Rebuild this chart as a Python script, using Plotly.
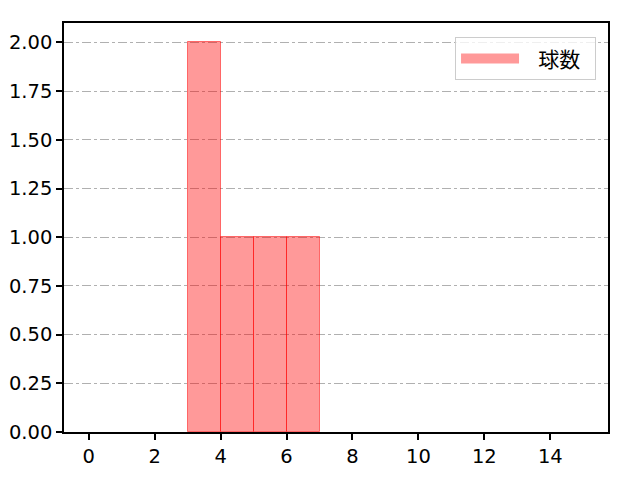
import plotly.graph_objects as go

bin_left = [3, 4, 5, 6]
counts = [2, 1, 1, 1]
series_name = "球数"
x_ticks = [0, 2, 4, 6, 8, 10, 12, 14]
y_ticks = [0, 0.25, 0.5, 0.75, 1.0, 1.25, 1.5, 1.75, 2.0]

fill = "rgba(255,0,0,0.4)"
edge = "rgba(255,0,0,0.5)"

fig = go.Figure()
fig.add_trace(go.Bar(
    x=[b + 0.5 for b in bin_left], y=counts, width=1,
    name=series_name,
    marker=dict(color=fill, line=dict(color=edge, width=1)),
    showlegend=False,
))
# legend swatch (wide rectangle like the reference)
fig.add_trace(go.Scatter(
    x=[None], y=[None], mode="lines", name="\u00a0\u00a0\u00a0" + series_name + "\u00a0\u00a0",
    line=dict(color=fill, width=19), showlegend=True,
))

tick_font = dict(family="DejaVu Sans, sans-serif", size=19.5, color="black")
fig.update_layout(
    width=640, height=480,
    margin=dict(l=56, r=40, t=15, b=56),
    plot_bgcolor="white", paper_bgcolor="white",
    font=dict(family="Noto Sans CJK JP, sans-serif", size=20, color="black"),
    bargap=0,
    legend=dict(x=0.978, y=0.965, xanchor="right", yanchor="top",
                bgcolor="rgba(255,255,255,0.8)", bordercolor="#cccccc", borderwidth=1,
                font=dict(family="Noto Sans CJK JP, sans-serif", size=21), itemwidth=58),
    xaxis=dict(range=[-0.75, 15.75], tickvals=x_ticks, ticktext=[str(v) for v in x_ticks],
               tickfont=tick_font, automargin=False,
               showgrid=False, zeroline=False, showline=True, linecolor="black", linewidth=1.6,
               mirror=True, ticks="outside", ticklen=6, tickwidth=1.6, tickcolor="black"),
    yaxis=dict(range=[0, 2.1], tickvals=y_ticks, ticktext=[f"{v:.2f}" for v in y_ticks],
               tickfont=tick_font, automargin=False,
               showgrid=True, gridcolor="#b0b0b0", griddash="dashdot", gridwidth=1,
               zeroline=False, showline=True, linecolor="black", linewidth=1.6,
               mirror=True, ticks="outside", ticklen=6, tickwidth=1.6, tickcolor="black",
               layer="above traces"),
)
fig.write_html("out.html")
